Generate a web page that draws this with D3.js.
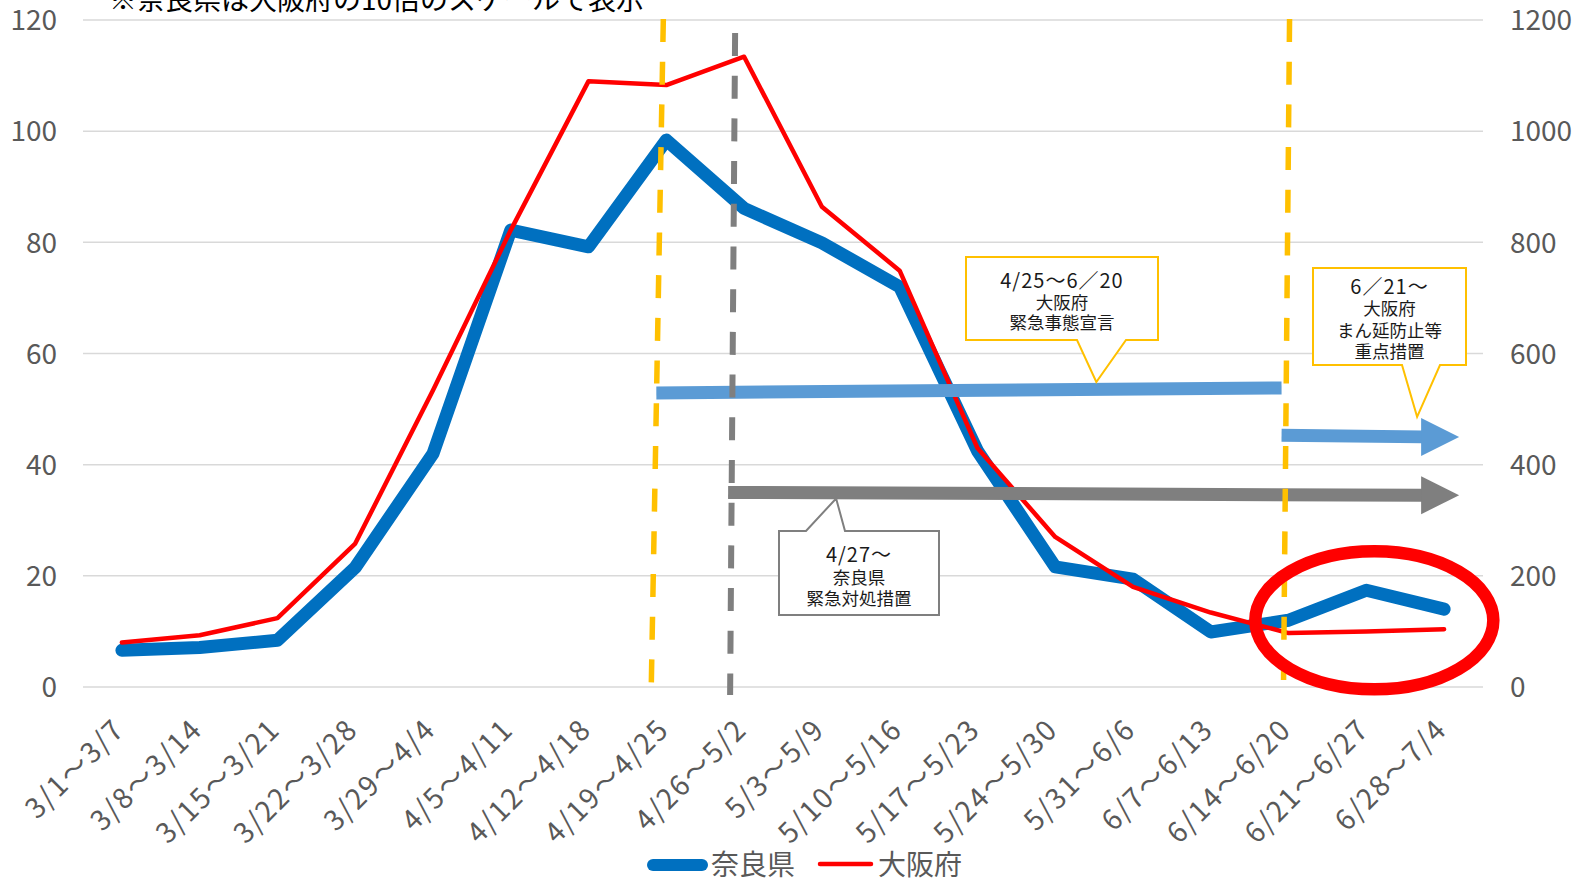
<!DOCTYPE html>
<html>
<head>
<meta charset="utf-8">
<script src="https://cdn.jsdelivr.net/npm/d3@7"></script>
<style>
  html, body { margin: 0; padding: 0; background: #fff; }
  svg { display: block; }
  text { font-family: "Noto Sans CJK JP", "Noto Sans", sans-serif; }
</style>
</head>
<body>
<svg id="chart" width="1585" height="879"></svg>
<script>
// ---- data ----
const categories = ["3/1～3/7","3/8～3/14","3/15～3/21","3/22～3/28","3/29～4/4","4/5～4/11","4/12～4/18","4/19～4/25","4/26～5/2","5/3～5/9","5/10～5/16","5/17～5/23","5/24～5/30","5/31～6/6","6/7～6/13","6/14～6/20","6/21～6/27","6/28～7/4"];
const naraValues = [6.6, 7.1, 8.4, 21.5, 42, 82.2, 79.2, 98.4, 86.1, 79.9, 72, 42.5, 21.6, 19.4, 9.9, 12, 17.4, 14];
const osakaValues = [80, 93, 124, 258, 534, 822, 1090, 1083, 1134, 864, 749, 430, 270, 180, 134, 97, 100, 104];
const leftTicks = [0, 20, 40, 60, 80, 100, 120];
const rightTicks = [0, 200, 400, 600, 800, 1000, 1200];
const seriesNames = ["奈良県", "大阪府"];
const noteText = "※奈良県は大阪府の10倍のスケールで表示";
const callout1Lines = ["4/25～6／20", "大阪府", "緊急事態宣言"];
const callout2Lines = ["6／21～", "大阪府", "まん延防止等", "重点措置"];
const callout3Lines = ["4/27～", "奈良県", "緊急対処措置"];
// periods (category of start / end marker, arrow level in left-axis units)
const osakaEmergency = { start: "4/19～4/25", end: "6/14～6/20", levelStart: 52.9, levelEnd: 53.8 };
const osakaPriority = { start: "6/14～6/20", end: "6/28～7/4", levelStart: 45.3, levelEnd: 45.0 };
const naraEmergency = { start: "4/26～5/2", end: "6/28～7/4", levelStart: 35.0, levelEnd: 34.5 };
const highlightCenter = { cat: "6/21～6/27", value: 12 };

// ---- setup ----
const svg = d3.select("#chart");
const L = 83, R = 1483, T = 20, B = 687;
const x = d3.scalePoint().domain(categories).range([L, R]).padding(0.5);
const yL = d3.scaleLinear().domain([0, 120]).range([B, T]);
const yR = d3.scaleLinear().domain([0, 1200]).range([B, T]);

const C_NARA = "#0070C0", C_OSAKA = "#FF0000", C_YEL = "#FFC000", C_GRAY = "#7F7F7F", C_LB = "#5B9BD5";
const C_TXT = "#595959";

// gridlines
svg.append("g").selectAll("line").data(leftTicks).join("line")
  .attr("x1", L).attr("x2", R)
  .attr("y1", d => yL(d)).attr("y2", d => yL(d))
  .attr("stroke", "#D9D9D9").attr("stroke-width", 1.5);

// left axis
const axL = d3.axisLeft(yL).tickValues(leftTicks).tickFormat(d3.format("d")).tickSize(0).tickPadding(0);
const gL = svg.append("g").attr("transform", "translate(57,0)").call(axL);
gL.select(".domain").remove();
gL.selectAll("text").attr("font-size", 28).attr("fill", C_TXT)
  .style("font-family", '"Noto Sans CJK JP", sans-serif').attr("dy", "0.35em");

// right axis
const axR = d3.axisRight(yR).tickValues(rightTicks).tickFormat(d3.format("d")).tickSize(0).tickPadding(0);
const gR = svg.append("g").attr("transform", "translate(1510,0)").call(axR);
gR.select(".domain").remove();
gR.selectAll("text").attr("font-size", 28).attr("fill", C_TXT)
  .style("font-family", '"Noto Sans CJK JP", sans-serif').attr("dy", "0.35em");

// bottom axis labels
const axB = d3.axisBottom(x).tickSize(0).tickPadding(0);
const gB = svg.append("g").attr("transform", `translate(0,${B})`).call(axB);
gB.select(".domain").remove();
gB.selectAll("text")
  .attr("font-size", 28).attr("fill", C_TXT)
  .style("font-family", '"Noto Sans CJK JP", sans-serif')
  .attr("letter-spacing", 2)
  .attr("text-anchor", "end")
  .attr("dy", 0).attr("y", 0)
  .attr("transform", "translate(4,44) rotate(-45)");

// lines
const lineNara = d3.line().x((d, i) => x(categories[i])).y(d => yL(d));
const lineOsaka = d3.line().x((d, i) => x(categories[i])).y(d => yR(d));
svg.append("path").datum(naraValues).attr("d", lineNara)
  .attr("fill", "none").attr("stroke", C_NARA).attr("stroke-width", 13)
  .attr("stroke-linejoin", "round").attr("stroke-linecap", "round");
svg.append("path").datum(osakaValues).attr("d", lineOsaka)
  .attr("fill", "none").attr("stroke", C_OSAKA).attr("stroke-width", 4.5)
  .attr("stroke-linejoin", "round").attr("stroke-linecap", "round");

// arrows
function shaft(x1, y1, x2, y2, color) {
  svg.append("line").attr("x1", x1).attr("y1", y1).attr("x2", x2).attr("y2", y2)
    .attr("stroke", color).attr("stroke-width", 13);
}
function head(xb, yb, color) {
  svg.append("path")
    .attr("d", `M${xb},${yb - 19} L${xb + 38},${yb} L${xb},${yb + 19} Z`)
    .attr("fill", color);
}
// Osaka emergency (no head)
shaft(x(osakaEmergency.start) - 10, yL(osakaEmergency.levelStart),
      x(osakaEmergency.end) - 7, yL(osakaEmergency.levelEnd), C_LB);
// Osaka priority measures
{
  const x1 = x(osakaPriority.start) - 7, x2 = x(osakaPriority.end) + 15 - 38;
  shaft(x1, yL(osakaPriority.levelStart), x2 + 1, yL(osakaPriority.levelEnd), C_LB);
  head(x2, yL(osakaPriority.levelEnd), C_LB);
}
// Nara emergency
{
  const x1 = x(naraEmergency.start) - 16, x2 = x(naraEmergency.end) + 15 - 38;
  shaft(x1, yL(naraEmergency.levelStart), x2 + 1, yL(naraEmergency.levelEnd), C_GRAY);
  head(x2, yL(naraEmergency.levelEnd), C_GRAY);
}

// dashed markers
function dashed(xTop, yTop, xBot, yBot, color, w) {
  svg.append("line").attr("x1", xTop).attr("y1", yTop).attr("x2", xBot).attr("y2", yBot)
    .attr("stroke", color).attr("stroke-width", w).attr("stroke-dasharray", "23 19.7");
}
dashed(x(osakaEmergency.start) - 3, yL(120) - 1, x(osakaEmergency.start) - 15, yL(0) - 4, C_YEL, 5.5);
dashed(x(naraEmergency.start) - 9, 33, x(naraEmergency.start) - 14, yL(0) + 8, C_GRAY, 6);
dashed(x(osakaEmergency.end) + 1, yL(120) - 1, x(osakaEmergency.end) - 5, yL(0) - 7, C_YEL, 5.5);

// callouts
function callout(box, ptr, lines, color, lineYs) {
  const [x0, y0, x1, y1] = box;
  let d;
  if (ptr.side === "bottom") {
    d = `M${x0},${y0} L${x1},${y0} L${x1},${y1} L${ptr.b2},${y1} L${ptr.tx},${ptr.ty} L${ptr.b1},${y1} L${x0},${y1} Z`;
  } else {
    d = `M${x0},${y0} L${ptr.b1},${y0} L${ptr.tx},${ptr.ty} L${ptr.b2},${y0} L${x1},${y0} L${x1},${y1} L${x0},${y1} Z`;
  }
  svg.append("path").attr("d", d).attr("fill", "#fff").attr("stroke", color).attr("stroke-width", 2);
  const cx = (x0 + x1) / 2;
  const t = svg.append("text").attr("text-anchor", "middle").attr("fill", "#1a1a1a");
  lines.forEach((s, i) => {
    t.append("tspan").attr("x", cx).attr("y", lineYs[i])
      .attr("dominant-baseline", "central")
      .attr("font-size", i === 0 ? 20 : 17.5)
      .attr("letter-spacing", i === 0 ? 1 : 0)
      .text(s);
  });
}
{
  const tx = x(osakaEmergency.start) + 430, ty = yL(osakaEmergency.levelEnd) - 6;
  callout([966, 257, 1158, 340], { side: "bottom", b1: 1077, b2: 1126, tx: tx, ty: ty },
    callout1Lines, C_YEL, [279, 301.5, 321.5]);
}
{
  const tx = x(osakaPriority.end) - 27, ty = yL(osakaPriority.levelEnd) - 20;
  callout([1313, 268, 1466, 365], { side: "bottom", b1: 1402, b2: 1440, tx: tx, ty: ty },
    callout2Lines, C_YEL, [285, 307.5, 329, 350]);
}
{
  const tx = x(naraEmergency.start) + 92, ty = yL(naraEmergency.levelStart) + 6;
  callout([779, 531, 939, 615], { side: "top", b1: 806, b2: 845, tx: tx, ty: ty },
    callout3Lines, C_GRAY, [553, 576, 597]);
}

// highlight ellipse
svg.append("ellipse")
  .attr("cx", x(highlightCenter.cat) + 8).attr("cy", yL(highlightCenter.value))
  .attr("rx", 119).attr("ry", 69)
  .attr("fill", "none").attr("stroke", "#FF0000").attr("stroke-width", 12.5);

// note text (partly cut off at top, as in the original)
svg.append("text").attr("x", 109).attr("y", 10)
  .attr("font-size", 28).attr("fill", "#000").text(noteText);

// legend
const lg = svg.append("g");
lg.append("line").attr("x1", 653).attr("x2", 702).attr("y1", 865).attr("y2", 865)
  .attr("stroke", C_NARA).attr("stroke-width", 12).attr("stroke-linecap", "round");
lg.append("text").attr("x", 711).attr("y", 875).attr("font-size", 28).attr("fill", C_TXT).text(seriesNames[0]);
lg.append("line").attr("x1", 820).attr("x2", 871).attr("y1", 864).attr("y2", 864)
  .attr("stroke", C_OSAKA).attr("stroke-width", 4.5).attr("stroke-linecap", "round");
lg.append("text").attr("x", 878).attr("y", 875).attr("font-size", 28).attr("fill", C_TXT).text(seriesNames[1]);
</script>
</body>
</html>
